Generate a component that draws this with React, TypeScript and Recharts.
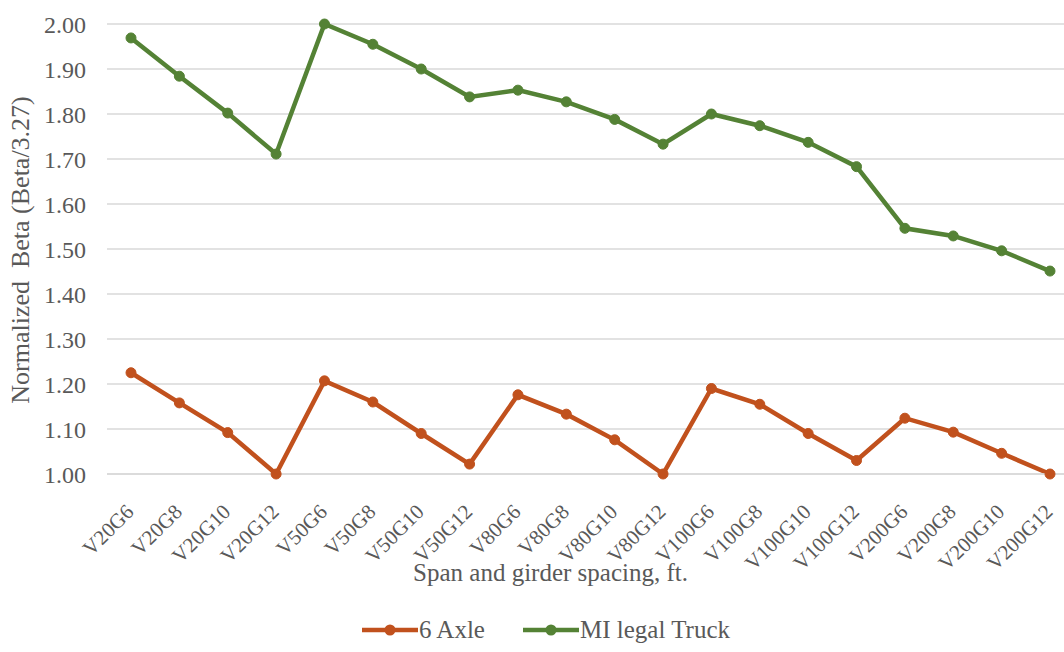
import React from "react";
import { LineChart, Line, XAxis, YAxis, CartesianGrid, Legend } from "recharts";

const categories = ["V20G6","V20G8","V20G10","V20G12","V50G6","V50G8","V50G10","V50G12","V80G6","V80G8","V80G10","V80G12","V100G6","V100G8","V100G10","V100G12","V200G6","V200G8","V200G10","V200G12"];
const sixAxle = [1.225,1.158,1.092,1.0,1.207,1.16,1.09,1.022,1.176,1.133,1.076,1.0,1.19,1.155,1.09,1.03,1.124,1.093,1.046,1.0];
const miLegal = [1.969,1.884,1.802,1.711,2.0,1.955,1.90,1.838,1.853,1.827,1.788,1.733,1.80,1.774,1.737,1.683,1.546,1.529,1.496,1.451];
const yTicks = [1.0,1.1,1.2,1.3,1.4,1.5,1.6,1.7,1.8,1.9,2.0];

const ORANGE = "#C1511D";
const GREEN = "#548235";
const TEXT = "#595959";
const FONT = "'Liberation Serif', 'Times New Roman', serif";

const data = categories.map((c, i) => ({ name: c, a: sixAxle[i], m: miLegal[i] }));

const XTick = (props: any) => {
  const { x, y, payload } = props;
  const ax = x + 4;
  const ay = y + 31;
  return (
    <text x={ax} y={ay} transform={`rotate(-45 ${ax} ${ay})`} textAnchor="end" fontFamily={FONT} fontSize={21} fill={TEXT}>
      {payload.value}
    </text>
  );
};

const XLabel = (props: any) => {
  const vb = props.viewBox || {};
  return (
    <text x={vb.x + vb.width / 2 - 40} y={581} textAnchor="middle" fontFamily={FONT} fontSize={25} fill={TEXT}>
      Span and girder spacing, ft.
    </text>
  );
};

const YLabel = () => {
  return (
    <text x={0} y={0} transform="translate(29 250) rotate(-90)" textAnchor="middle" fontFamily={FONT} fontSize={26} fill={TEXT} style={{ whiteSpace: "pre" }}>
      {"Normalized  Beta (Beta/3.27)"}
    </text>
  );
};

const LegendContent = () => {
  const items = [
    { label: "6 Axle", color: ORANGE },
    { label: "MI legal Truck", color: GREEN },
  ];
  return (
    <div style={{ position: "relative", height: 40, fontFamily: FONT, fontSize: 25, color: TEXT }}>
      {items.map((it, i) => (
        <div key={i} style={{ position: "absolute", left: i === 0 ? 362 : 523, top: 3, display: "flex", alignItems: "center", lineHeight: "30px" }}>
          <svg width={56} height={14}>
            <line x1={0} y1={7} x2={56} y2={7} stroke={it.color} strokeWidth={4.5} />
            <circle cx={28} cy={7} r={5.5} fill={it.color} />
          </svg>
          <span style={{ marginLeft: 1 }}>{it.label}</span>
        </div>
      ))}
    </div>
  );
};

export default function App() {
  return (
    <div style={{ position: "absolute", left: 0, top: 0, width: 1064, height: 652, overflow: "hidden", background: "#fff" }}>
      <LineChart width={1080} height={652} data={data} margin={{ top: 24, right: 6, bottom: 0, left: 0 }}>
        <CartesianGrid vertical={false} stroke="#D9D9D9" strokeWidth={1.5} />
        <XAxis
          dataKey="name"
          interval={0}
          tick={<XTick />}
          tickLine={false}
          padding={{ left: 24, right: 24 }}
          axisLine={{ stroke: "#D9D9D9", strokeWidth: 1.5 }}
          height={138}
          label={<XLabel />}
        />
        <YAxis
          domain={[1, 2]}
          ticks={yTicks}
          tickFormatter={(v: number) => v.toFixed(2)}
          width={107}
          tickLine={false}
          axisLine={false}
          tick={{ fontFamily: FONT, fontSize: 24, fill: TEXT }}
          tickMargin={15}
          label={<YLabel />}
        />
        <Legend verticalAlign="bottom" content={<LegendContent />} wrapperStyle={{ height: 40, width: 1064, left: 0 }} />
        <Line dataKey="a" name="6 Axle" stroke={ORANGE} strokeWidth={4.5} dot={{ r: 5, fill: ORANGE, stroke: ORANGE, strokeWidth: 1 }} isAnimationActive={false} />
        <Line dataKey="m" name="MI legal Truck" stroke={GREEN} strokeWidth={4.5} dot={{ r: 5, fill: GREEN, stroke: GREEN, strokeWidth: 1 }} isAnimationActive={false} />
      </LineChart>
    </div>
  );
}
